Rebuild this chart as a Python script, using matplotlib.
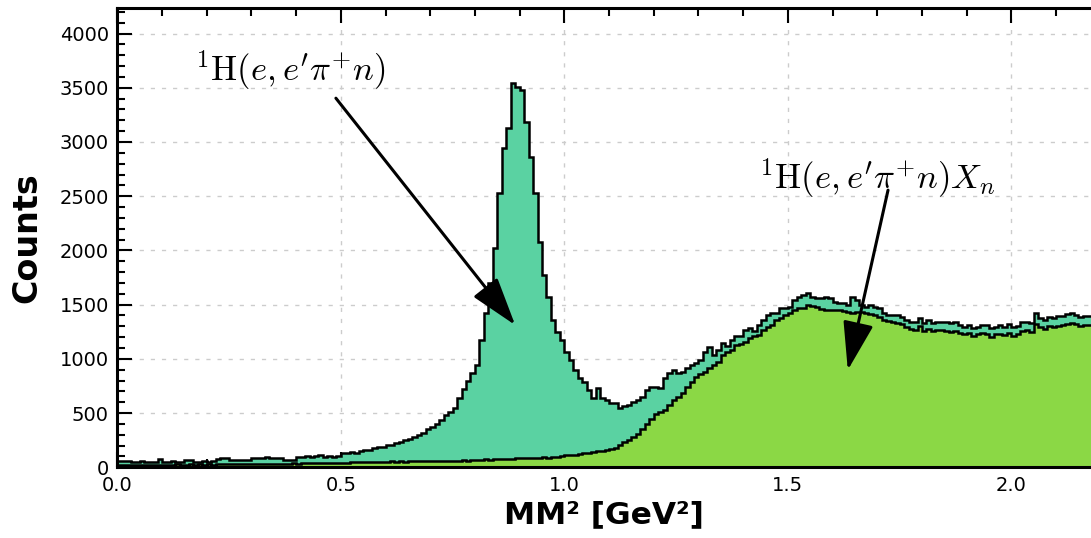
import matplotlib
matplotlib.use("Agg")
import matplotlib.pyplot as plt
import numpy as np

plt.rcParams["mathtext.fontset"] = "cm"

# bin edges: 0.01 GeV^2 wide bins from 0 to 2.2
bin_lo = 0.0
bin_width = 0.01

# all events (teal)
total_counts = [
    58, 55, 58, 52, 50, 54, 52, 50, 53, 72,
    52, 50, 54, 52, 50, 66, 68, 52, 50, 54,
    52, 55, 74, 82, 84, 66, 68, 66, 70, 67,
    84, 82, 85, 98, 84, 82, 84, 68, 70, 67,
    98, 96, 100, 98, 100, 113, 98, 100, 98, 104,
    130, 135, 140, 135, 150, 160, 160, 175, 185, 190,
    205, 210, 224, 235, 250, 258, 280, 300, 320, 350,
    374, 400, 440, 480, 512, 546, 640, 720, 800, 870,
    940, 1173, 1420, 1700, 2020, 2527, 2943, 3127, 3543, 3508,
    3477, 3185, 2863, 2527, 2080, 1772, 1573, 1358, 1250, 1173,
    1066, 989, 897, 820, 789, 712, 636, 728, 636, 620,
    590, 590, 544, 565, 575, 605, 620, 651, 712, 743,
    743, 728, 820, 872, 897, 866, 880, 912, 943, 960,
    989, 1066, 1112, 1035, 1081, 1143, 1120, 1173, 1210, 1210,
    1266, 1281, 1260, 1312, 1358, 1404, 1419, 1419, 1465, 1465,
    1480, 1542, 1566, 1588, 1609, 1573, 1557, 1557, 1573, 1557,
    1526, 1511, 1511, 1496, 1573, 1540, 1496, 1480, 1496, 1480,
    1465, 1419, 1404, 1404, 1404, 1388, 1358, 1342, 1342, 1373,
    1327, 1358, 1327, 1342, 1342, 1342, 1327, 1342, 1312, 1296,
    1312, 1281, 1296, 1312, 1312, 1281, 1296, 1312, 1296, 1321,
    1296, 1302, 1342, 1342, 1330, 1419, 1373, 1358, 1388, 1373,
    1394, 1394, 1413, 1419, 1404, 1388, 1394, 1394, 1400, 1390,
]

# multi-pion background X_n (green)
bkg_counts = [
    22, 20, 25, 22, 20, 24, 22, 25, 20, 23,
    25, 22, 24, 26, 22, 25, 28, 24, 26, 25,
    28, 25, 30, 27, 26, 30, 28, 32, 30, 28,
    30, 32, 30, 34, 31, 33, 35, 32, 34, 36,
    35, 38, 36, 38, 40, 37, 40, 42, 40, 42,
    44, 42, 45, 48, 46, 48, 50, 48, 52, 50,
    52, 54, 52, 55, 52, 56, 54, 57, 55, 58,
    57, 60, 58, 62, 60, 58, 62, 64, 62, 66,
    68, 70, 72, 70, 74, 76, 74, 78, 80, 82,
    85, 84, 88, 86, 90, 92, 88, 95, 98, 100,
    110, 115, 118, 125, 130, 135, 140, 148, 152, 158,
    165, 180, 210, 230, 255, 275, 310, 350, 400, 450,
    490, 510, 530, 575, 620, 651, 682, 743, 789, 835,
    860, 881, 912, 943, 974, 1035, 1060, 1081, 1127, 1140,
    1158, 1189, 1210, 1219, 1266, 1290, 1312, 1358, 1375, 1400,
    1419, 1450, 1465, 1470, 1496, 1490, 1481, 1456, 1450, 1450,
    1450, 1450, 1440, 1434, 1419, 1430, 1430, 1420, 1410, 1400,
    1390, 1360, 1345, 1340, 1330, 1320, 1295, 1280, 1270, 1300,
    1260, 1280, 1255, 1265, 1270, 1260, 1250, 1260, 1240, 1225,
    1240, 1210, 1225, 1235, 1230, 1205, 1225, 1230, 1220, 1240,
    1215, 1225, 1255, 1265, 1250, 1320, 1290, 1280, 1300, 1290,
    1305, 1310, 1325, 1330, 1320, 1305, 1310, 1310, 1315, 1305,
]

label_excl = r"$^{1}\mathrm{H}(e,e^{\prime}\pi^{+}n)$"
label_bkg = r"$^{1}\mathrm{H}(e,e^{\prime}\pi^{+}n)X_{n}$"

teal = "#5ad2a2"
green = "#8bd845"

edges = bin_lo + bin_width * np.arange(len(total_counts) + 1)

fig = plt.figure(figsize=(10.91, 5.38), dpi=100)
ax = fig.add_axes([0.1075, 0.1314, 0.8925, 0.8536])

ax.stairs(total_counts, edges, fill=True, color=teal, linewidth=0, zorder=2)
ax.stairs(total_counts, edges, color="k", linewidth=1.8, zorder=3)
ax.stairs(bkg_counts, edges, fill=True, color=green, linewidth=0, zorder=4)
ax.stairs(bkg_counts, edges, color="k", linewidth=1.8, zorder=5)

ax.set_xlim(0, 2.178)
ax.set_ylim(0, 4235)

ax.set_xticks(np.arange(0, 2.01, 0.5))
ax.set_xticks(np.arange(0, 2.18, 0.1), minor=True)
ax.set_yticks(np.arange(0, 4001, 500))
ax.set_yticks(np.arange(0, 4201, 100), minor=True)
ax.tick_params(which="both", direction="in", top=True, right=False, width=1.5, labelsize=14)
ax.tick_params(which="major", length=11, pad=6)
ax.tick_params(which="minor", length=6)

ax.grid(which="major", color="#cccccc", linestyle=(0, (3, 5)), linewidth=1, zorder=1)
ax.set_axisbelow(True)
for side in ["left", "bottom", "top"]:
    ax.spines[side].set_linewidth(2.2)
    ax.spines[side].set_zorder(6)
ax.spines["right"].set_visible(False)

ax.set_xlabel("MM² [GeV²]", fontsize=22.5, fontweight="bold", labelpad=4)
ax.set_ylabel("Counts", fontsize=24, fontweight="bold", labelpad=12)

head = "-|>,head_length=3.0,head_width=0.95"
ax.annotate("", xy=(0.890, 1312), xytext=(0.489, 3404),
            arrowprops=dict(arrowstyle=head, color="k", lw=2.2, shrinkA=0, shrinkB=0), zorder=7)
ax.annotate("", xy=(1.634, 897), xytext=(1.724, 2556),
            arrowprops=dict(arrowstyle=head, color="k", lw=2.2, shrinkA=0, shrinkB=0), zorder=7)
ax.text(0.386, 3660, label_excl, fontsize=25, ha="center", va="center", zorder=7)
ax.text(1.700, 2670, label_bkg, fontsize=25, ha="center", va="center", zorder=7)

fig.savefig("out.png", dpi=100)
